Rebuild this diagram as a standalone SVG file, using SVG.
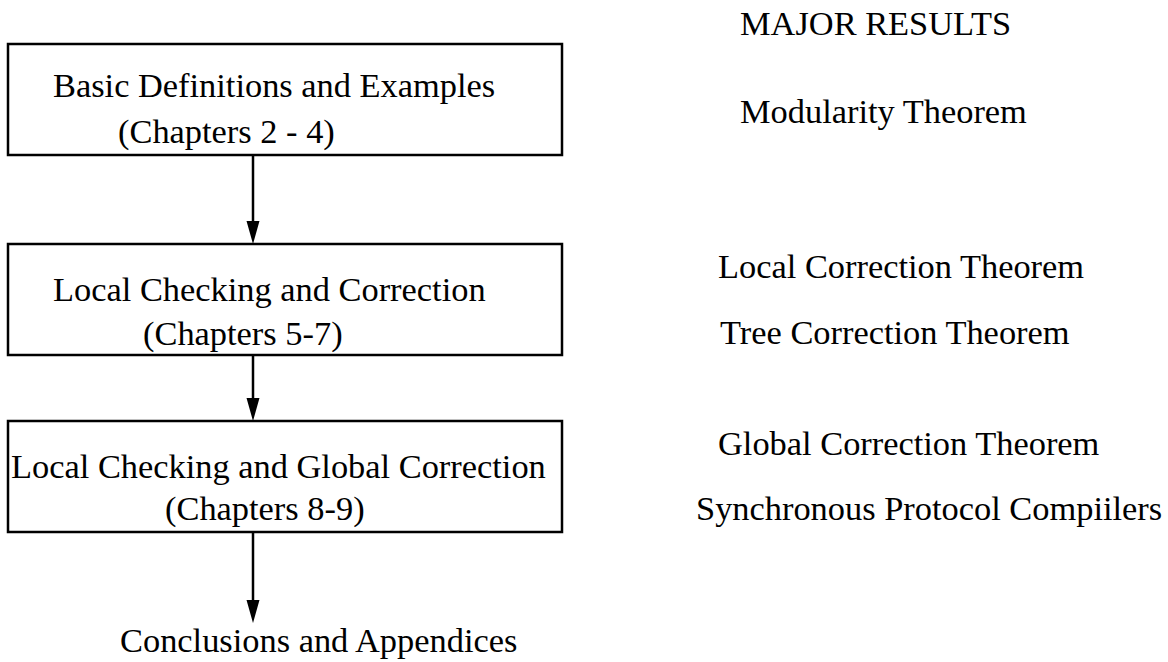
<svg xmlns="http://www.w3.org/2000/svg" width="1168" height="662" viewBox="0 0 1168 662">
  <style>
    .box { fill: #ffffff; stroke: #000000; stroke-width: 2.5; }
    .lbl { font-family: "Liberation Serif", "Times New Roman", serif; font-size: 34.4px; fill: #000000; }
    .edge { stroke: #000000; stroke-width: 2.5; fill: none; }
    .head { fill: #000000; }
  </style>
  <rect width="1168" height="662" fill="#ffffff"/>

  <!-- flow connectors: shaft plus filled triangular head -->
  <g id="connectors">
    <line class="edge" x1="253" y1="155" x2="253" y2="221"/>
    <path class="head" d="M246.5,221 L259.5,221 L253,244 Z"/>
    <line class="edge" x1="253" y1="355" x2="253" y2="398"/>
    <path class="head" d="M246.5,398 L259.5,398 L253,421 Z"/>
    <line class="edge" x1="253" y1="532" x2="253" y2="600"/>
    <path class="head" d="M246.5,600 L259.5,600 L253,623 Z"/>
  </g>

  <g id="node-basic">
    <rect class="box" x="8" y="44" width="554" height="111"/>
    <text class="lbl" x="53" y="97">Basic Definitions and Examples</text>
    <text class="lbl" x="118" y="143">(Chapters 2 - 4)</text>
  </g>

  <g id="node-local">
    <rect class="box" x="8" y="244" width="554" height="111"/>
    <text class="lbl" x="53" y="301">Local Checking and Correction</text>
    <text class="lbl" x="143" y="345">(Chapters 5-7)</text>
  </g>

  <g id="node-global">
    <rect class="box" x="8" y="421" width="554" height="111"/>
    <text class="lbl" x="11" y="478">Local Checking and Global Correction</text>
    <text class="lbl" x="165" y="520">(Chapters 8-9)</text>
  </g>

  <g id="node-conclusions">
    <text class="lbl" x="120" y="652">Conclusions and Appendices</text>
  </g>

  <g id="results">
    <text class="lbl" x="740" y="35">MAJOR RESULTS</text>
    <text class="lbl" x="740" y="123">Modularity Theorem</text>
    <text class="lbl" x="718" y="278">Local Correction Theorem</text>
    <text class="lbl" x="720" y="344">Tree Correction Theorem</text>
    <text class="lbl" x="718" y="455">Global Correction Theorem</text>
    <text class="lbl" x="696" y="520">Synchronous Protocol Compiilers</text>
  </g>
</svg>
